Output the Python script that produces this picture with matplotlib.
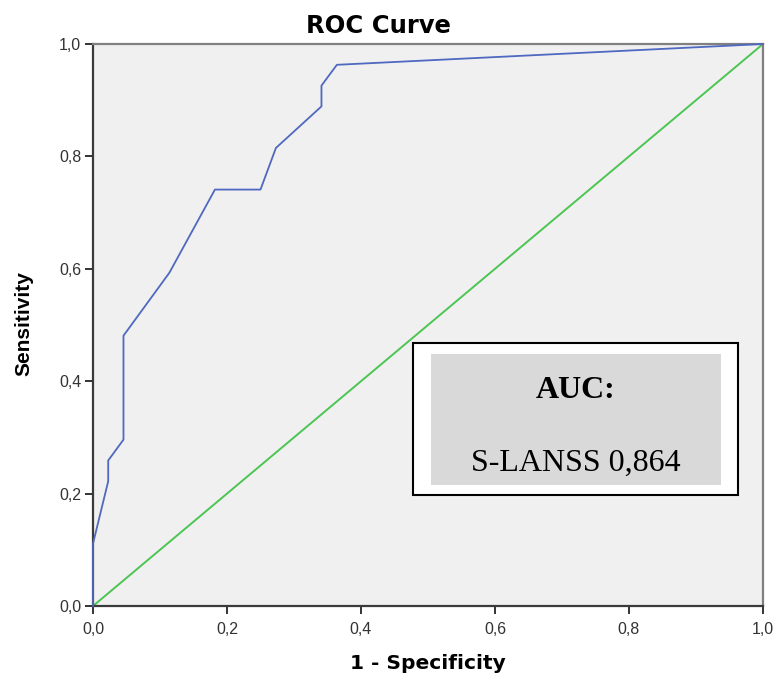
import matplotlib.pyplot as plt
from matplotlib.patches import Rectangle

# ROC points (1 - specificity, sensitivity)
fpr = [0.0, 0.0, 0.0227, 0.0227, 0.0455, 0.0455, 0.114, 0.182, 0.250, 0.273, 0.341, 0.341, 0.364, 1.0]
tpr = [0.0, 0.111, 0.222, 0.259, 0.296, 0.481, 0.593, 0.741, 0.741, 0.815, 0.889, 0.926, 0.963, 1.0]
ref_line = [0.0, 1.0]
ticks = [0.0, 0.2, 0.4, 0.6, 0.8, 1.0]
tick_labels = ["0,0", "0,2", "0,4", "0,6", "0,8", "1,0"]
auc_title = "AUC:"
auc_text = "S-LANSS 0,864"

plt.rcParams['font.family'] = ['Liberation Sans', 'DejaVu Sans']

fig = plt.figure(figsize=(7.75, 6.75), dpi=100)
ax = fig.add_axes([0.120, 0.1022, 0.8645, 0.8326])
ax.set_facecolor("#F0F0F0")

ax.plot(ref_line, ref_line, color="#4CC552", lw=1.4, zorder=2)
ax.plot(fpr, tpr, color="#4F68C0", lw=1.3, zorder=3, clip_on=False)

ax.set_xlim(0, 1)
ax.set_ylim(0, 1)
ax.set_xticks(ticks)
ax.set_xticklabels(tick_labels)
ax.set_yticks(ticks)
ax.set_yticklabels(tick_labels)
ax.tick_params(direction="out", length=5.5, width=1.4, color="#333333",
               labelsize=11.5, labelcolor="#333333")
ax.tick_params(axis="x", pad=6)
ax.tick_params(axis="y", pad=3)
for side in ["left", "bottom"]:
    ax.spines[side].set_color("#3a3a3a")
    ax.spines[side].set_linewidth(1.6)
for side in ["top", "right"]:
    ax.spines[side].set_color("#808080")
    ax.spines[side].set_linewidth(1.6)

# title sits left of the axes centre, like the original export
fig.text(0.488, 0.962, "ROC Curve", ha="center", va="center", fontsize=17.5,
         fontweight="bold", family=["DejaVu Sans"])
fig.text(0.5517, 0.0163, "1 - Specificity", ha="center", va="center",
         fontsize=14.5, fontweight="bold", family=["DejaVu Sans"])
fig.text(0.031, 0.52, "Sensitivity", ha="center", va="center", rotation=90,
         fontsize=15, fontweight="bold")

# AUC box
ax.add_patch(Rectangle((0.478, 0.1975), 0.485, 0.271, transform=ax.transAxes,
                       facecolor="white", edgecolor="black", lw=1.5, zorder=4))
ax.add_patch(Rectangle((0.504, 0.215), 0.434, 0.233, transform=ax.transAxes,
                       facecolor="#D9D9D9", edgecolor="none", zorder=5))
ax.text(0.72, 0.384, auc_title, transform=ax.transAxes, ha="center", va="center",
        fontsize=23, fontweight="bold", family=["Liberation Serif", "DejaVu Serif"], zorder=6)
ax.text(0.72, 0.254, auc_text, transform=ax.transAxes, ha="center", va="center",
        fontsize=23, family=["Liberation Serif", "DejaVu Serif"], zorder=6)

fig.savefig("out.png", dpi=100)
